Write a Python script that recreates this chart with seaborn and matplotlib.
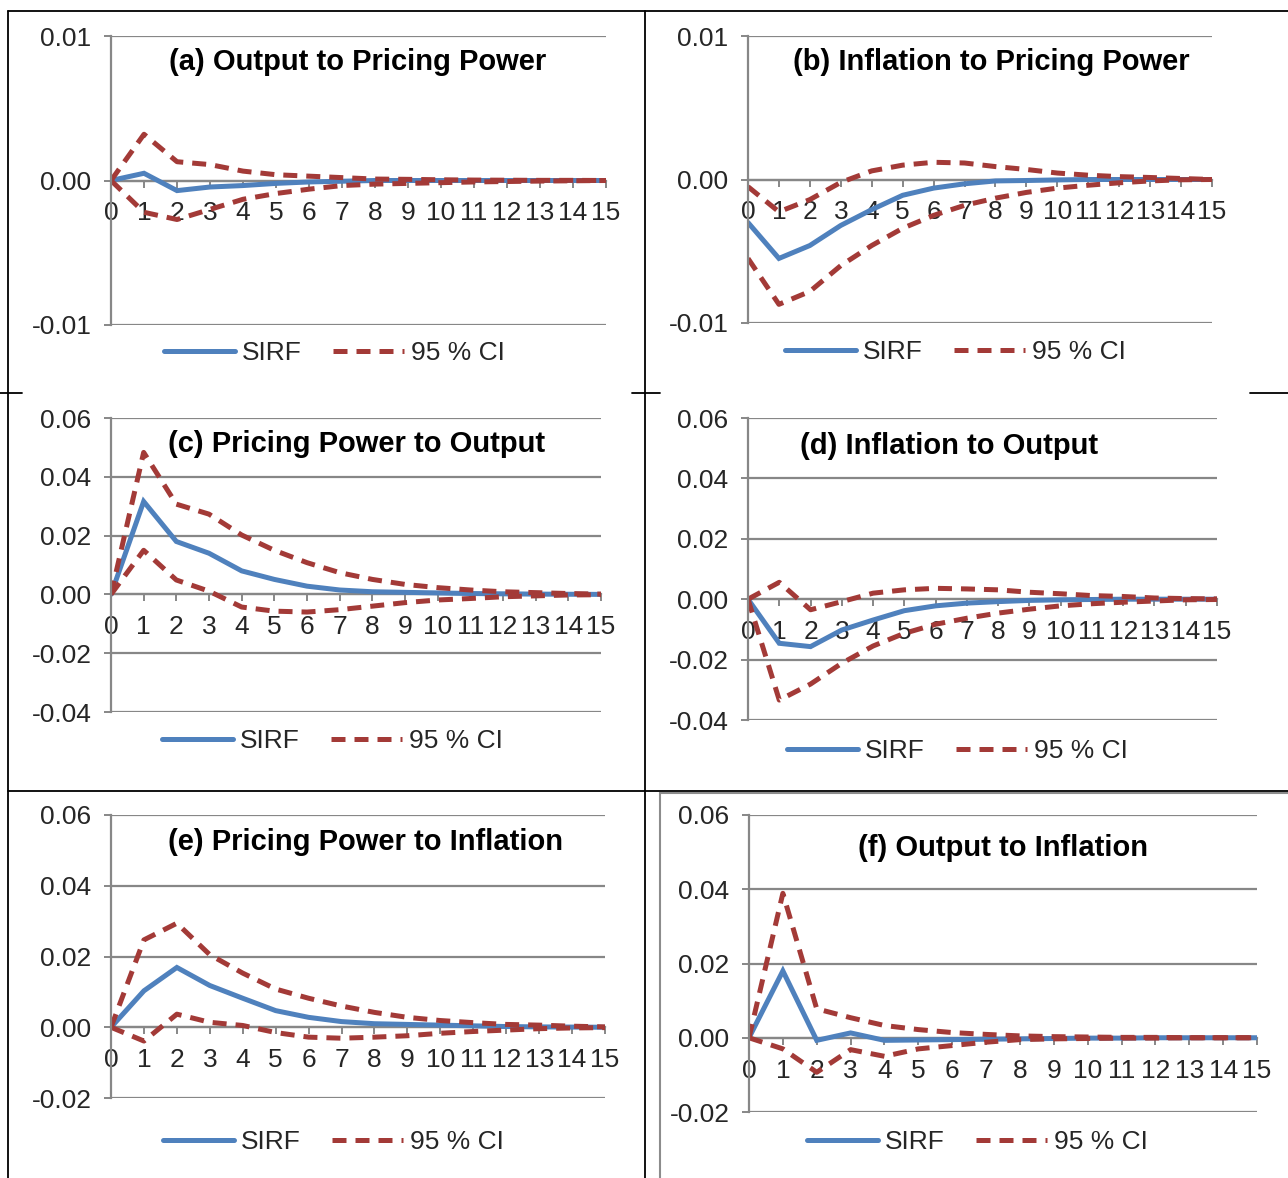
import pandas as pd
import matplotlib.pyplot as plt
from matplotlib.lines import Line2D
from matplotlib.patches import Rectangle
from matplotlib.ticker import FuncFormatter
import seaborn as sns

periods = list(range(16))

a_sirf = [0, 0.0005, -0.0007, -0.00045, -0.00035, -0.0002, -0.0001, -0.00005, 0, 0, 0, 0, 0, 0, 0, 0]
a_upper = [0, 0.0032, 0.0013, 0.0011, 0.00065, 0.0004, 0.0003, 0.0002, 0.0001, 0.00008, 0.00005, 0.00003, 0.00002, 0.00001, 0.00001, 0]
a_lower = [0, -0.0022, -0.0027, -0.002, -0.0013, -0.0009, -0.0006, -0.00035, -0.00025, -0.0002, -0.00015, -0.0001, -0.00007, -0.00004, -0.00002, 0]

b_sirf = [-0.003, -0.0055, -0.0046, -0.0032, -0.0021, -0.0011, -0.0006, -0.0003, -0.0001, -0.00007, -0.00003, 0, 0, 0, 0, 0]
b_upper = [-0.0005, -0.00225, -0.0014, -0.0002, 0.0006, 0.001, 0.0012, 0.00115, 0.0009, 0.0007, 0.00045, 0.0003, 0.0002, 0.00014, 0.00007, 0]
b_lower = [-0.0055, -0.0087, -0.0078, -0.006, -0.0046, -0.0034, -0.0025, -0.0018, -0.0013, -0.0009, -0.0006, -0.0004, -0.00023, -0.0001, -0.00002, 0]

c_sirf = [0, 0.0316, 0.018, 0.014, 0.008, 0.0051, 0.0028, 0.0015, 0.0009, 0.0007, 0.0005, 0.0003, 0.0002, 0.0001, 0.00005, 0]
c_upper = [0, 0.0483, 0.0307, 0.0273, 0.0202, 0.015, 0.0108, 0.0074, 0.0051, 0.0034, 0.0023, 0.0015, 0.0009, 0.0006, 0.0003, 0.0001]
c_lower = [0, 0.015, 0.0049, 0.0011, -0.0043, -0.0057, -0.006, -0.0052, -0.004, -0.0028, -0.0019, -0.0014, -0.0008, -0.0005, -0.0002, -0.0001]

d_sirf = [0, -0.0146, -0.0157, -0.0102, -0.0069, -0.0038, -0.0022, -0.0013, -0.0008, -0.0004, -0.0002, -0.0001, 0, 0, 0, 0]
d_upper = [0, 0.0056, -0.0035, -0.0008, 0.002, 0.0031, 0.0036, 0.0034, 0.0031, 0.0023, 0.0018, 0.0012, 0.0009, 0.0004, 0.0002, 0.0001]
d_lower = [0, -0.0334, -0.0281, -0.0212, -0.0155, -0.0113, -0.0083, -0.0063, -0.0046, -0.0033, -0.0022, -0.0015, -0.001, -0.0006, -0.0002, -0.0001]

e_sirf = [0, 0.0103, 0.0169, 0.0118, 0.0082, 0.0047, 0.0028, 0.0016, 0.001, 0.0008, 0.0006, 0.0004, 0.0002, 0.0001, 0.00005, 0]
e_upper = [0, 0.0247, 0.0294, 0.0205, 0.0153, 0.0108, 0.0082, 0.006, 0.0042, 0.0028, 0.0019, 0.0013, 0.0008, 0.0006, 0.0003, 0.0001]
e_lower = [0, -0.0039, 0.0037, 0.0014, 0.0005, -0.0015, -0.0028, -0.0031, -0.0028, -0.0024, -0.0017, -0.0012, -0.0008, -0.0004, -0.0002, -0.0001]

f_sirf = [0, 0.018, -0.0007, 0.0013, -0.0007, -0.0006, -0.0005, -0.0004, -0.0003, -0.0002, -0.0001, -0.0001, 0, 0, 0, 0]
f_upper = [0, 0.0389, 0.0078, 0.0054, 0.0033, 0.0022, 0.0014, 0.0009, 0.0005, 0.0003, 0.0002, 0.0001, 0.0001, 0, 0, 0]
f_lower = [0, -0.003, -0.0093, -0.0032, -0.005, -0.003, -0.0021, -0.0012, -0.0005, -0.0003, -0.0002, -0.0001, -0.0001, 0, 0, 0]

titles = ['(a) Output to Pricing Power', '(b) Inflation to Pricing Power',
          '(c) Pricing Power to Output', '(d) Inflation to Output',
          '(e) Pricing Power to Inflation', '(f) Output to Inflation']

W, H = 1288, 1178
BLUE = '#4F81BD'
RED = '#A33A37'
GRID = '#878787'

sns.set_theme(style='white')
plt.rcParams['font.family'] = ['Liberation Sans', 'DejaVu Sans']

# layout in pixels: axes box (left, right, top, bottom), title centre, legend centre
layout = [
    dict(box=(111, 606, 36, 325), ylim=(-0.01, 0.01), step=0.01, tpos=(358, 62), lpos=(334, 353)),
    dict(box=(748, 1212, 36, 323), ylim=(-0.01, 0.01), step=0.01, tpos=(991, 62), lpos=(955, 352)),
    dict(box=(111, 601, 418, 712), ylim=(-0.04, 0.06), step=0.02, tpos=(357, 444), lpos=(332, 741)),
    dict(box=(748, 1217, 418, 720), ylim=(-0.04, 0.06), step=0.02, tpos=(949, 446), lpos=(957, 751)),
    dict(box=(111, 605, 815, 1098), ylim=(-0.02, 0.06), step=0.02, tpos=(366, 842), lpos=(333, 1142)),
    dict(box=(749, 1257, 815, 1112), ylim=(-0.02, 0.06), step=0.02, tpos=(1003, 848), lpos=(977, 1142)),
]
series = [(a_sirf, a_upper, a_lower), (b_sirf, b_upper, b_lower), (c_sirf, c_upper, c_lower),
          (d_sirf, d_upper, d_lower), (e_sirf, e_upper, e_lower), (f_sirf, f_upper, f_lower)]

fig = plt.figure(figsize=(W / 100, H / 100), dpi=100)

def fx(x):
    return x / W

def fy(y):
    return 1 - y / H

for title, (sirf, up, lo), p in zip(titles, series, layout):
    l, r, t, b = p['box']
    ax = fig.add_axes([fx(l), fy(b), (r - l) / W, (b - t) / H])
    df = pd.DataFrame({'period': periods, 'sirf': sirf, 'upper': up, 'lower': lo})
    sns.lineplot(data=df, x='period', y='sirf', color=BLUE, lw=3.6, ax=ax,
                 label='SIRF', solid_joinstyle='miter')
    sns.lineplot(data=df, x='period', y='upper', color=RED, lw=3.6, ax=ax,
                 label='95 % CI', linestyle=(0, (2.8, 1.8)))
    sns.lineplot(data=df, x='period', y='lower', color=RED, lw=3.6, ax=ax,
                 linestyle=(0, (2.8, 1.8)))

    lo_y, hi_y = p['ylim']
    n = int(round((hi_y - lo_y) / p['step']))
    ax.set_ylim(lo_y, hi_y)
    ax.set_yticks([lo_y + i * p['step'] for i in range(n + 1)])
    ax.yaxis.set_major_formatter(FuncFormatter(lambda v, _: '0.00' if abs(v) < 1e-9 else f'{v:.2f}'))
    ax.set_xlim(0, 15)
    ax.set_xticks(periods)
    ax.set_xlabel('')
    ax.set_ylabel('')

    ax.yaxis.grid(True, color=GRID, lw=1.6)
    ax.xaxis.grid(False)
    for s in ['top', 'right']:
        ax.spines[s].set_visible(False)
    ax.spines['left'].set_color(GRID)
    ax.spines['left'].set_linewidth(1.6)
    ax.spines['bottom'].set_position(('data', 0))
    ax.spines['bottom'].set_color(GRID)
    ax.spines['bottom'].set_linewidth(1.6)
    ax.spines['bottom'].set_zorder(0.5)
    ax.tick_params(axis='y', which='major', direction='out', length=5, width=1.4,
                   color=GRID, labelsize=19, pad=9, left=True)
    ax.tick_params(axis='x', which='major', direction='out', length=5, width=1.4,
                   color=GRID, labelsize=19, pad=10, bottom=True)
    ax.set_facecolor('none')

    h, lab = ax.get_legend_handles_labels()
    ax.legend(h, lab, loc='center', bbox_to_anchor=(fx(p['lpos'][0]), fy(p['lpos'][1])),
              bbox_transform=fig.transFigure, ncol=2, frameon=False, fontsize=19,
              handlelength=2.7, handletextpad=0.25, columnspacing=1.2)

    fig.text(fx(p['tpos'][0]), fy(p['tpos'][1]), title, ha='center', va='center',
             fontsize=21, fontweight='bold', color='black')

# panel frame lines from the source document
frame = [
    ((8, 1288), (11, 11)),
    ((8, 8), (11, 1178)),
    ((645, 645), (11, 1178)),
    ((0, 22), (393, 393)),
    ((632, 660), (393, 393)),
    ((1250, 1288), (393, 393)),
    ((8, 1288), (791, 791)),
]
for xs, ys in frame:
    fig.add_artist(Line2D([fx(xs[0]), fx(xs[1])], [fy(ys[0]), fy(ys[1])],
                          color='black', lw=1.3, transform=fig.transFigure))
fig.add_artist(Rectangle((fx(660), fy(1180)), (1290 - 660) / W, (1180 - 793) / H,
                         fill=False, edgecolor='#8C8C8C', lw=1.5, transform=fig.transFigure))

fig.savefig('out.png', dpi=100)
